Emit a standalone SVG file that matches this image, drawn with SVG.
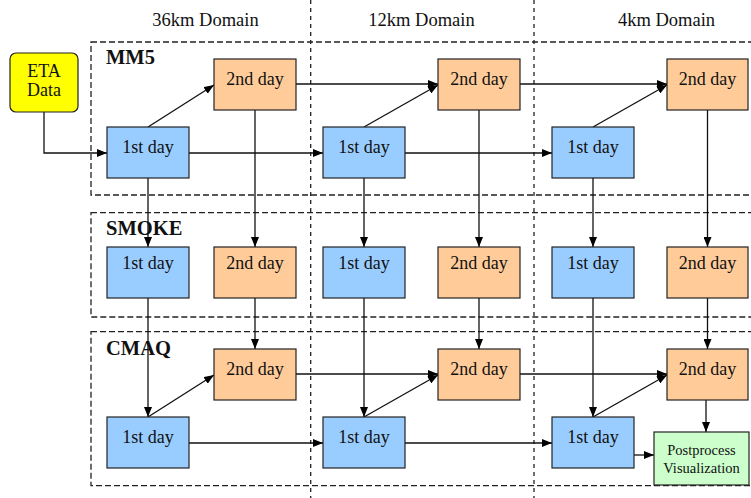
<svg xmlns="http://www.w3.org/2000/svg" width="751" height="498" viewBox="0 0 751 498" font-family="'Liberation Serif', 'Times New Roman', serif">
<defs>
<marker id="ah" markerUnits="userSpaceOnUse" markerWidth="10" markerHeight="8" refX="10" refY="4" orient="auto">
<path d="M0,0 L10,4 L0,8 z" fill="#000"/>
</marker>
<style>
text{font-family:'Liberation Serif','Times New Roman',serif;fill:#111;}
.t{font-family:'Liberation Serif',serif;font-size:18px;text-anchor:middle;}
.h{font-family:'Liberation Serif',serif;font-size:18.5px;text-anchor:middle;}
.lbl{font-family:'Liberation Serif',serif;font-size:20.5px;font-weight:bold;}
.pp{font-family:'Liberation Serif',serif;font-size:14.5px;text-anchor:middle;}
.dash{fill:none;stroke:#222;stroke-width:1.3;stroke-dasharray:6,3;}
.vdash{fill:none;stroke:#222;stroke-width:1.3;stroke-dasharray:4,4;}
.c{fill:none;stroke:#111;stroke-width:1.3;marker-end:url(#ah);}
.b1{fill:#99CCFF;stroke:#222;stroke-width:1.2;}
.b2{fill:#FFCC99;stroke:#222;stroke-width:1.2;}
</style>
</defs>
<rect width="751" height="498" fill="#fff"/>
<g id="frames">
<rect class="dash" x="91" y="42" width="680" height="153"/>
<rect class="dash" x="91" y="212.7" width="680" height="104.3"/>
<rect class="dash" x="91" y="331.7" width="680" height="154"/>
<line class="vdash" x1="310.7" y1="0" x2="310.7" y2="498"/>
<line class="vdash" x1="534" y1="0" x2="534" y2="498"/>
</g>
<g id="headers">
<text class="h" x="205.5" y="26">36km Domain</text>
<text class="h" x="421.5" y="26">12km Domain</text>
<text class="h" x="666.5" y="26">4km Domain</text>
<text class="lbl" x="106" y="64">MM5</text>
<text class="lbl" x="106" y="235">SMOKE</text>
<text class="lbl" x="106" y="355">CMAQ</text>
</g>
<g id="connectors">
<path class="c" d="M44,112 V153 H107"/>
<path class="c" d="M148,127 L214,85"/>
<path class="c" d="M189,153 H323"/>
<path class="c" d="M296,84 H438"/>
<path class="c" d="M364,127 L438,85"/>
<path class="c" d="M405,153 H552"/>
<path class="c" d="M520,84 H667"/>
<path class="c" d="M593,127 L667,85"/>
<path class="c" d="M148,178 V247"/>
<path class="c" d="M255,110 V247"/>
<path class="c" d="M364,178 V247"/>
<path class="c" d="M479,110 V247"/>
<path class="c" d="M593,178 V247"/>
<path class="c" d="M707.5,110 V247"/>
<path class="c" d="M148,298 V417"/>
<path class="c" d="M255,298 V349"/>
<path class="c" d="M364,298 V417"/>
<path class="c" d="M479,298 V349"/>
<path class="c" d="M593,298 V417"/>
<path class="c" d="M707.5,298 V349"/>
<path class="c" d="M148,417 L214,375"/>
<path class="c" d="M364,417 L438,375"/>
<path class="c" d="M593,417 L667,375"/>
<path class="c" d="M189,443 H323"/>
<path class="c" d="M405,443 H552"/>
<path class="c" d="M296,374 H438"/>
<path class="c" d="M520,374 H667"/>
<path class="c" d="M706,400 V432"/>
<path class="c" d="M634,455 H654"/>
</g>
<g id="eta">
<rect x="10" y="53" width="68" height="59" rx="6" fill="#FFFF00" stroke="#222" stroke-width="1.2"/>
<text class="t" x="44" y="77">ETA</text>
<text class="t" x="44" y="96">Data</text>
</g>
<g id="mm5-36-d1"><rect class="b1" x="107" y="127" width="82" height="51"/><text class="t" x="148" y="153">1st day</text></g>
<g id="mm5-36-d2"><rect class="b2" x="214" y="59" width="82" height="51"/><text class="t" x="255" y="85">2nd day</text></g>
<g id="mm5-12-d1"><rect class="b1" x="323" y="127" width="82" height="51"/><text class="t" x="364" y="153">1st day</text></g>
<g id="mm5-12-d2"><rect class="b2" x="438" y="59" width="82" height="51"/><text class="t" x="479" y="85">2nd day</text></g>
<g id="mm5-4-d1"><rect class="b1" x="552" y="127" width="82" height="51"/><text class="t" x="593" y="153">1st day</text></g>
<g id="mm5-4-d2"><rect class="b2" x="667" y="59" width="81" height="51"/><text class="t" x="707.5" y="85">2nd day</text></g>
<g id="smoke-36-d1"><rect class="b1" x="107" y="247" width="82" height="51"/><text class="t" x="148" y="268.5">1st day</text></g>
<g id="smoke-36-d2"><rect class="b2" x="214" y="247" width="82" height="51"/><text class="t" x="255" y="268.5">2nd day</text></g>
<g id="smoke-12-d1"><rect class="b1" x="323" y="247" width="82" height="51"/><text class="t" x="364" y="268.5">1st day</text></g>
<g id="smoke-12-d2"><rect class="b2" x="438" y="247" width="82" height="51"/><text class="t" x="479" y="268.5">2nd day</text></g>
<g id="smoke-4-d1"><rect class="b1" x="552" y="247" width="82" height="51"/><text class="t" x="593" y="268.5">1st day</text></g>
<g id="smoke-4-d2"><rect class="b2" x="667" y="247" width="81" height="51"/><text class="t" x="707.5" y="268.5">2nd day</text></g>
<g id="cmaq-36-d2"><rect class="b2" x="214" y="349" width="82" height="51"/><text class="t" x="255" y="375">2nd day</text></g>
<g id="cmaq-36-d1"><rect class="b1" x="107" y="417" width="82" height="51"/><text class="t" x="148" y="443">1st day</text></g>
<g id="cmaq-12-d2"><rect class="b2" x="438" y="349" width="82" height="51"/><text class="t" x="479" y="375">2nd day</text></g>
<g id="cmaq-12-d1"><rect class="b1" x="323" y="417" width="82" height="51"/><text class="t" x="364" y="443">1st day</text></g>
<g id="cmaq-4-d2"><rect class="b2" x="667" y="349" width="81" height="51"/><text class="t" x="707.5" y="375">2nd day</text></g>
<g id="cmaq-4-d1"><rect class="b1" x="552" y="417" width="82" height="51"/><text class="t" x="593" y="443">1st day</text></g>
<g id="postprocess">
<rect x="654" y="432" width="95" height="53" fill="#CCFFCC" stroke="#222" stroke-width="1.2"/>
<text class="pp" x="701.5" y="455">Postprocess</text>
<text class="pp" x="701.5" y="473">Visualization</text>
</g>
</svg>
